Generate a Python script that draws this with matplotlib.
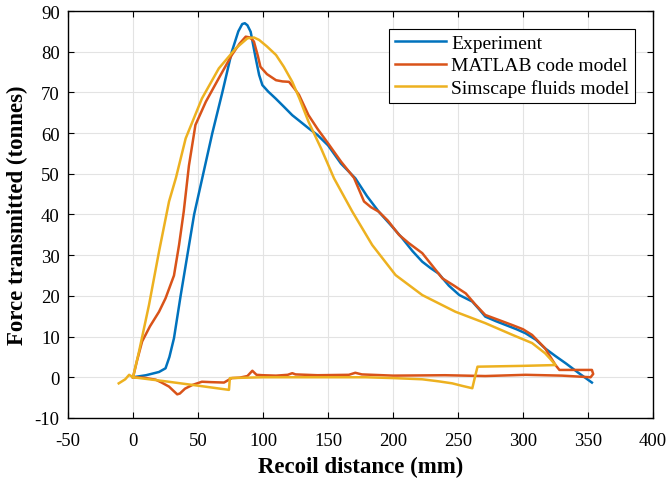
import matplotlib
matplotlib.use("Agg")
import matplotlib.pyplot as plt

# Experiment (blue)
exp_x = [0, 10, 20, 25, 28, 31.5, 36.7, 41.8, 47, 54, 61, 68.7, 76, 81, 84, 86, 88, 90.5, 94, 97, 99.5,
         104, 109.7, 116, 122.5, 128, 135, 142, 150, 160, 171, 180, 189, 198, 207, 215, 222.5, 229, 235,
         243, 251, 261, 266, 271, 279, 287, 295, 302, 310, 317, 325, 333, 343, 353]
exp_y = [0, 0.5, 1.3, 2.2, 5, 9.6, 20.2, 30, 40, 50, 60, 70, 80, 85, 86.8, 87, 86.5, 84.9, 79, 74.3, 71.8,
         70.2, 68.5, 66.5, 64.4, 63, 61.2, 59.5, 57, 52.5, 48.9, 44.5, 40.7, 37.5, 34.2, 31, 28.4, 26.8, 25.5,
         22.5, 20.2, 18.6, 16.8, 14.9, 13.8, 12.8, 11.8, 10.8, 9.2, 7.1, 5.2, 3.4, 1.0, -1.3]

# MATLAB code model (red)
mat_x = [0, 3, 7, 13, 20, 25, 31.5, 35.4, 39, 43, 48, 56, 66, 76, 82, 86.7, 90, 93, 96, 98, 103, 110,
         115, 120, 124, 127.7, 135, 142, 150, 160, 170, 177.7, 183, 189, 196, 204.6, 212, 222.5, 230,
         238, 247, 256, 263, 271, 282, 292, 300, 307, 317, 325, 328, 340, 353, 354, 352,
         330, 302, 271, 240, 200, 176, 171, 166, 142, 125, 122.5, 119, 110, 100, 95, 91.8, 88, 82, 76,
         70, 60, 53, 45.6, 40, 36, 34, 31, 27.7, 22, 17.5, 8, 0]
mat_y = [0, 4, 8.8, 12.5, 16.1, 19.4, 25, 32.5, 40.7, 52, 62, 67.7, 73.5, 79.2, 82, 83.7, 83.5, 82.5, 79,
         76.3, 74.5, 73, 72.7, 72.6, 71, 69.4, 64.4, 61, 57.5, 53, 49, 43.2, 41.8, 40.7, 38.5, 35, 33,
         30.5, 27.5, 24.3, 22.5, 20.6, 18, 15.3, 14, 12.8, 11.8, 10.4, 7.1, 3, 1.8, 1.8, 1.8, 0.8, 0,
         0.4, 0.6, 0.3, 0.5, 0.4, 0.7, 1.1, 0.6, 0.5, 0.7, 1.0, 0.6, 0.4, 0.5, 0.6, 1.6, 0.3, -0.1, -0.2,
         -1.3, -1.2, -1.1, -1.9, -2.8, -4.0, -4.2, -3.3, -2.3, -1.3, -0.6, -0.1, 0]

# Simscape fluids model (yellow)
sim_x = [-11, -6, -3, 0, 4.6, 12.3, 20, 27.7, 33, 40.5, 53, 66, 79, 88, 93, 97, 103, 110, 116, 122.5,
         128, 135, 145, 154.6, 168.7, 184, 202, 222.5, 248, 271, 292, 307, 317, 321, 324, 325,
         300, 265, 263, 261, 253, 245.6, 235, 222.5, 200, 179, 140, 100, 74.5, 73.8, 50.8, 25, 0]
sim_y = [-1.5, -0.5, 0.6, 0, 6.3, 17.8, 30.9, 43.2, 49, 58.7, 68.5, 75.9, 80.8, 83.3, 83.5, 82.9, 81.3,
         79.2, 76.3, 72.6, 68.5, 62.8, 56, 48.9, 40.7, 32.5, 25.1, 20.2, 16.1, 13.3, 10.4, 8.4, 5.9, 4.5,
         3.4, 3.0, 2.8, 2.6, 0, -2.7, -2.1, -1.5, -1.0, -0.5, -0.2, 0, 0, 0, -0.2, -3.1, -2.1, -1.0, 0]

x_ticks = [-50, 0, 50, 100, 150, 200, 250, 300, 350, 400]
y_ticks = [-10, 0, 10, 20, 30, 40, 50, 60, 70, 80, 90]

plt.rcParams['font.family'] = ['Liberation Serif', 'DejaVu Serif']
plt.rcParams['axes.unicode_minus'] = False

fig = plt.figure(figsize=(6.67, 4.81), dpi=100)
ax = fig.add_axes([0.102, 0.129, 0.877, 0.846])

ax.plot(exp_x, exp_y, color='#0072BD', lw=1.8, label='Experiment')
ax.plot(mat_x, mat_y, color='#D95319', lw=1.8, label='MATLAB code model')
ax.plot(sim_x, sim_y, color='#EDB120', lw=1.8, label='Simscape fluids model')

ax.set_xlim(-50, 400)
ax.set_ylim(-10, 90)
ax.set_xticks(x_ticks)
ax.set_yticks(y_ticks)
ax.tick_params(direction='in', top=True, right=True, length=4, labelsize=13.5, width=0.8)
ax.tick_params(axis='x', pad=10)
ax.tick_params(axis='y', pad=6)
ax.grid(True, color='#e3e3e3', lw=0.8)
ax.set_axisbelow(True)
for s in ax.spines.values():
    s.set_linewidth(1.0)

ax.set_xlabel('Recoil distance (mm)', fontsize=16.5, fontweight='bold', labelpad=5)
ax.set_ylabel('Force transmitted (tonnes)', fontsize=16.5, fontweight='bold', labelpad=5)

leg = ax.legend(loc='upper right', fontsize=14, fancybox=False, edgecolor='black',
                framealpha=1, borderaxespad=0.9, handlelength=2.6, handletextpad=0.3,
                labelspacing=0.25, borderpad=0.3)
leg.get_frame().set_linewidth(0.8)

fig.savefig('out.png', dpi=100)
